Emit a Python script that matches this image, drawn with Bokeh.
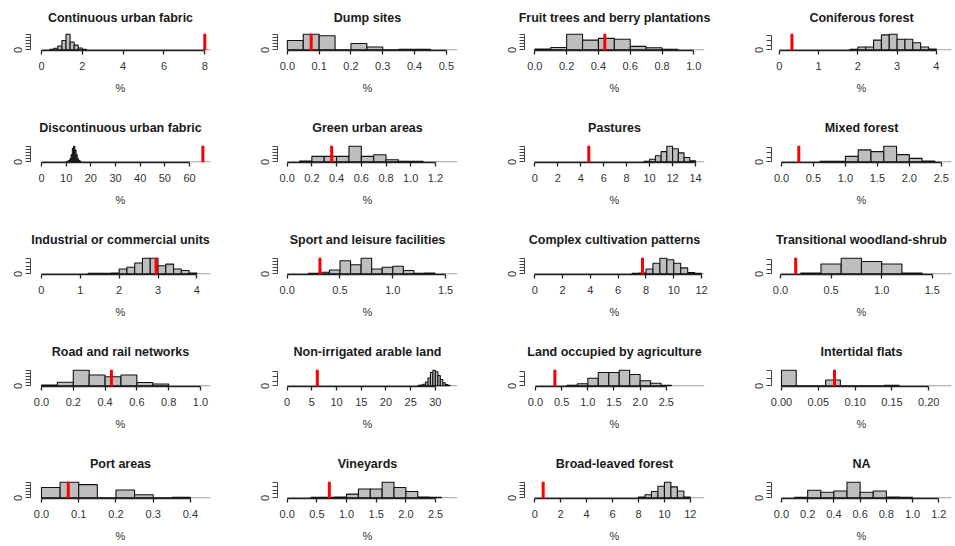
import math
from bokeh.plotting import figure
from bokeh.models import Range1d, FixedTicker, Span
from bokeh.layouts import gridplot
from bokeh.embed import file_html
from bokeh.resources import INLINE

# ---------------- data ----------------
titles = [
    "Continuous urban fabric", "Dump sites", "Fruit trees and berry plantations", "Coniferous forest",
    "Discontinuous urban fabric", "Green urban areas", "Pastures", "Mixed forest",
    "Industrial or commercial units", "Sport and leisure facilities", "Complex cultivation patterns",
    "Transitional woodland-shrub",
    "Road and rail networks", "Non-irrigated arable land", "Land occupied by agriculture", "Intertidal flats",
    "Port areas", "Vineyards", "Broad-leaved forest", "NA",
]

# observed value (red line); None = no line
observed = [8.0, 0.075, 0.44, 0.32,
            65.4, 0.36, 4.7, 0.27,
            2.95, 0.31, 7.75, 0.15,
            0.44, 6.1, 0.37, 0.072,
            0.072, 0.71, 0.65, None]

bin_start = [0.4, 0.0, 0.0, 1.8,
             10.0, 0.1, 9.5, 0.6,
             1.2, 0.2, 7.0, 0.2,
             0.0, 26.5, 0.6, 0.0,
             0.0, 0.4, 8.0, 0.1]

bin_width = [0.2, 0.05, 0.1, 0.2,
             0.5, 0.1, 0.5, 0.2,
             0.2, 0.1, 0.5, 0.2,
             0.1, 0.5, 0.2, 0.02,
             0.05, 0.2, 0.5, 0.1]

counts = [
    [3, 10, 25, 60, 100, 50, 30, 12, 4],
    [60, 100, 90, 0, 40, 18, 0, 3, 3],
    [5, 15, 100, 62, 73, 67, 22, 13, 3],
    [3, 18, 18, 62, 95, 100, 67, 67, 45, 18, 5],
    [2, 4, 8, 20, 45, 85, 100, 75, 45, 20, 8, 3],
    [5, 35, 35, 35, 100, 35, 45, 13, 4, 3],
    [3, 17, 39, 65, 100, 83, 57, 28, 7],
    [4, 4, 35, 76, 65, 100, 46, 22, 5],
    [3, 3, 3, 5, 31, 42, 69, 100, 100, 52, 62, 31, 21, 5],
    [3, 10, 25, 83, 58, 100, 31, 42, 48, 21, 3, 5],
    [3, 5, 31, 67, 100, 90, 67, 38, 8, 3],
    [5, 63, 100, 79, 63, 6],
    [5, 23, 100, 69, 58, 69, 21, 12],
    [3, 5, 10, 25, 50, 85, 100, 90, 65, 40, 20, 8, 3],
    [3, 13, 48, 85, 85, 100, 72, 33, 17, 4],
    [100, 0, 0, 37, 0, 0, 0, 4],
    [66, 100, 84, 0, 50, 20, 0, 4],
    [3, 3, 5, 24, 56, 56, 100, 66, 40, 5, 3],
    [5, 20, 40, 74, 100, 70, 44, 5],
    [4, 48, 36, 44, 100, 36, 44, 5, 4],
]

x_tick_labels = [
    ["0", "2", "4", "6", "8"],
    ["0.0", "0.1", "0.2", "0.3", "0.4", "0.5"],
    ["0.0", "0.2", "0.4", "0.6", "0.8", "1.0"],
    ["0", "1", "2", "3", "4"],
    ["0", "10", "20", "30", "40", "50", "60"],
    ["0.0", "0.2", "0.4", "0.6", "0.8", "1.0", "1.2"],
    ["0", "2", "4", "6", "8", "10", "12", "14"],
    ["0.0", "0.5", "1.0", "1.5", "2.0", "2.5"],
    ["0", "1", "2", "3", "4"],
    ["0.0", "0.5", "1.0", "1.5"],
    ["0", "2", "4", "6", "8", "10", "12"],
    ["0.0", "0.5", "1.0", "1.5"],
    ["0.0", "0.2", "0.4", "0.6", "0.8", "1.0"],
    ["0", "5", "10", "15", "20", "25", "30"],
    ["0.0", "0.5", "1.0", "1.5", "2.0", "2.5"],
    ["0.00", "0.05", "0.10", "0.15", "0.20"],
    ["0.0", "0.1", "0.2", "0.3", "0.4"],
    ["0.0", "0.5", "1.0", "1.5", "2.0", "2.5"],
    ["0", "2", "4", "6", "8", "10", "12"],
    ["0.0", "0.2", "0.4", "0.6", "0.8", "1.0", "1.2"],
]

y_tick_step = [20, 20, 20, 30,
               20, 20, 20, 30,
               25, 20, 20, 30,
               20, 30, 30, 50,
               20, 25, 20, 25]
y_max = 100

# visible x extent of each panel
x_view = [(-0.54, 8.28), (-0.031, 0.535), (-0.065, 1.067), (-0.20, 4.386),
          (-4.46, 68.5), (-0.078, 1.378), (-0.90, 14.78), (-0.157, 2.66),
          (-0.28, 4.35), (-0.092, 1.613), (-0.74, 12.21), (-0.089, 1.69),
          (-0.069, 1.063), (-1.96, 34.48), (-0.21, 3.23), (-0.0136, 0.231),
          (-0.0295, 0.454), (-0.164, 2.87), (-0.79, 13.09), (-0.076, 1.297)]

# ---------------- layout / style ----------------
FONT = "Liberation Sans"
COL_W = [247, 247, 247, 212]
ROW_H = [105, 112, 112, 112, 103]
TOP_B = [33, 40, 40, 40, 40]
TITLE_STANDOFF = [17, 22, 22, 22, 22]
FRAME_W, FRAME_H = 180, 17
LEFT_B = 30

figs = []
for i, title in enumerate(titles):
    col, row = i % 4, i // 4
    lo, hi = x_view[i]
    right_b = COL_W[col] - LEFT_B - FRAME_W
    bottom_b = ROW_H[row] - TOP_B[row] - FRAME_H
    p = figure(width=COL_W[col], height=ROW_H[row], output_backend="svg", toolbar_location=None,
               x_range=Range1d(lo, hi), y_range=Range1d(-0.04 * y_max, 1.04 * y_max),
               min_border_left=LEFT_B, min_border_right=right_b,
               min_border_top=TOP_B[row], min_border_bottom=bottom_b,
               title=title)
    p.outline_line_color = None
    p.background_fill_color = "white"
    p.border_fill_color = "white"
    p.xgrid.visible = False
    p.ygrid.visible = False

    p.title.text_font = FONT
    p.title.text_font_size = "12.5px"
    p.title.text_font_style = "bold"
    p.title.text_color = "#1a1a1a"
    p.title.align = "center"
    p.title.standoff = TITLE_STANDOFF[row]

    # histogram bars
    c = counts[i]
    lefts = [bin_start[i] + k * bin_width[i] for k in range(len(c))]
    rights = [bin_start[i] + (k + 1) * bin_width[i] for k in range(len(c))]
    tick_vals = [float(s) for s in x_tick_labels[i]]

    p.segment(x0=[tick_vals[0]], y0=[0], x1=[hi], y1=[0], line_color="#8a8a8a", line_width=1)
    p.quad(left=lefts, right=rights, bottom=0, top=c,
           fill_color="#bebebe", line_color="#111111", line_width=1.1)

    if observed[i] is not None:
        p.add_layout(Span(location=observed[i], dimension="height",
                          line_color="#ff0000", line_width=3))

    # x axis
    xa = p.xaxis[0]
    xa.ticker = FixedTicker(ticks=tick_vals)
    xa.major_label_overrides = {v: s for v, s in zip(tick_vals, x_tick_labels[i])}
    xa.bounds = (tick_vals[0], tick_vals[-1])
    xa.axis_line_color = "#222222"
    xa.axis_line_width = 1.4
    xa.major_tick_line_color = "#222222"
    xa.major_tick_line_width = 1.3
    xa.major_tick_in = 0
    xa.major_tick_out = 4
    xa.minor_tick_line_color = None
    xa.major_label_text_font = FONT
    xa.major_label_text_font_size = "11px"
    xa.major_label_text_color = "#333333"
    xa.major_label_standoff = 7
    xa.axis_label = "%"
    xa.axis_label_text_font = FONT
    xa.axis_label_text_font_size = "11px"
    xa.axis_label_text_font_style = "normal"
    xa.axis_label_text_color = "#333333"
    xa.axis_label_standoff = 9

    # y axis
    ya = p.yaxis[0]
    step = y_tick_step[i]
    yt = [k * step for k in range(int(y_max // step) + 1)]
    ya.ticker = FixedTicker(ticks=yt)
    ya.major_label_overrides = {v: ("0" if v == 0 else "") for v in yt}
    ya.bounds = (0, yt[-1])
    ya.axis_line_color = "#444444"
    ya.axis_line_width = 1
    ya.major_tick_line_color = "#444444"
    ya.major_tick_in = 0
    ya.major_tick_out = 5
    ya.minor_tick_line_color = None
    ya.major_label_orientation = "vertical"
    ya.major_label_text_font = FONT
    ya.major_label_text_font_size = "11px"
    ya.major_label_text_color = "#333333"
    ya.major_label_standoff = 3

    figs.append(p)

grid = gridplot(figs, ncols=4, toolbar_location=None)

open("out.html", "w").write(file_html(grid, INLINE))
